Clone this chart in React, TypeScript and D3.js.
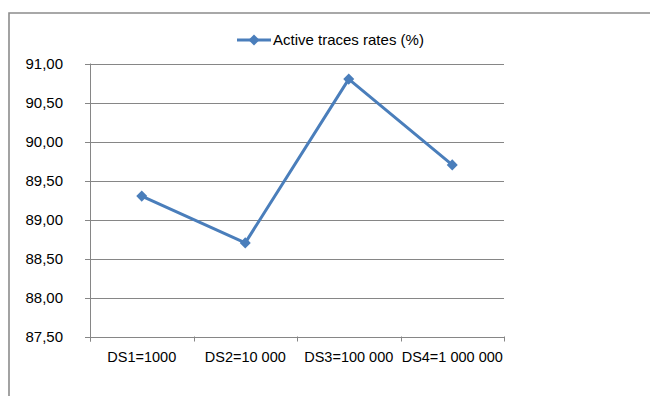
import React from "react";
import * as d3 from "d3";

const categories = ["DS1=1000", "DS2=10 000", "DS3=100 000", "DS4=1 000 000"];
const activeRates = [89.3, 88.7, 90.8, 89.7];
const yTicks = [87.5, 88, 88.5, 89, 89.5, 90, 90.5, 91];
const seriesName = "Active traces rates (%)";

const W = 650;
const H = 396;
const plot = { left: 90, right: 504, top: 63.5, bottom: 336.5 };
const FONT = "'Liberation Sans', Arial, sans-serif";
const LINE = "#4a7ebb";
const GRID = "#868686";

export default function App() {
  const x = d3
    .scaleBand<string>()
    .domain(categories)
    .range([plot.left, plot.right]);
  const y = d3
    .scaleLinear()
    .domain([87.5, 91])
    .range([plot.bottom, plot.top]);

  const line = d3
    .line<number>()
    .x((_, i) => (x(categories[i]) as number) + x.bandwidth() / 2)
    .y((d) => y(d));

  const diamond = d3.symbol().type(d3.symbolDiamond2).size(78)() as string;
  const fmt = (v: number) => v.toFixed(2).replace(".", ",");

  const tickXs = [...categories.map((c) => x(c) as number), plot.right];

  return (
    <svg
      width={W}
      height={H}
      style={{ position: "absolute", left: 0, top: 0, background: "#fff" }}
    >
      {/* outer chart frame */}
      <path d={`M9,${H} V13 H${W}`} fill="none" stroke="#8c8c8c" strokeWidth={1.6} />

      {/* horizontal gridlines + y labels */}
      {yTicks.map((t) => (
        <g key={t}>
          <line
            x1={plot.left - 5}
            x2={plot.right}
            y1={Math.round(y(t)) + 0.5}
            y2={Math.round(y(t)) + 0.5}
            stroke={GRID}
            strokeWidth={1}
          />
          <text
            x={63}
            y={y(t)}
            dy="0.35em"
            textAnchor="end"
            fontFamily={FONT}
            fontSize={15}
            fill="#000"
          >
            {fmt(t)}
          </text>
        </g>
      ))}

      {/* y axis line */}
      <line
        x1={plot.left + 0.5}
        x2={plot.left + 0.5}
        y1={plot.top}
        y2={plot.bottom + 5}
        stroke={GRID}
      />

      {/* x axis ticks */}
      {tickXs.map((tx, i) => (
        <line
          key={i}
          x1={Math.round(tx) + 0.5}
          x2={Math.round(tx) + 0.5}
          y1={plot.bottom}
          y2={plot.bottom + 5}
          stroke={GRID}
        />
      ))}

      {/* x labels */}
      {categories.map((c) => (
        <text
          key={c}
          x={(x(c) as number) + x.bandwidth() / 2}
          y={357}
          dy="0.35em"
          textAnchor="middle"
          fontFamily={FONT}
          fontSize={14.5}
          fill="#000"
        >
          {c}
        </text>
      ))}

      {/* series */}
      <path d={line(activeRates) as string} fill="none" stroke={LINE} strokeWidth={3} strokeLinejoin="round" />
      {activeRates.map((v, i) => (
        <path
          key={i}
          d={diamond}
          transform={`translate(${(x(categories[i]) as number) + x.bandwidth() / 2},${y(v)})`}
          fill={LINE}
        />
      ))}

      {/* legend */}
      <line x1={237} x2={271} y1={40} y2={40} stroke={LINE} strokeWidth={3} />
      <path d={diamond} transform="translate(254,40)" fill={LINE} />
      <text x={273} y={40} dy="0.35em" fontFamily={FONT} fontSize={15} fill="#000">
        {seriesName}
      </text>
    </svg>
  );
}
